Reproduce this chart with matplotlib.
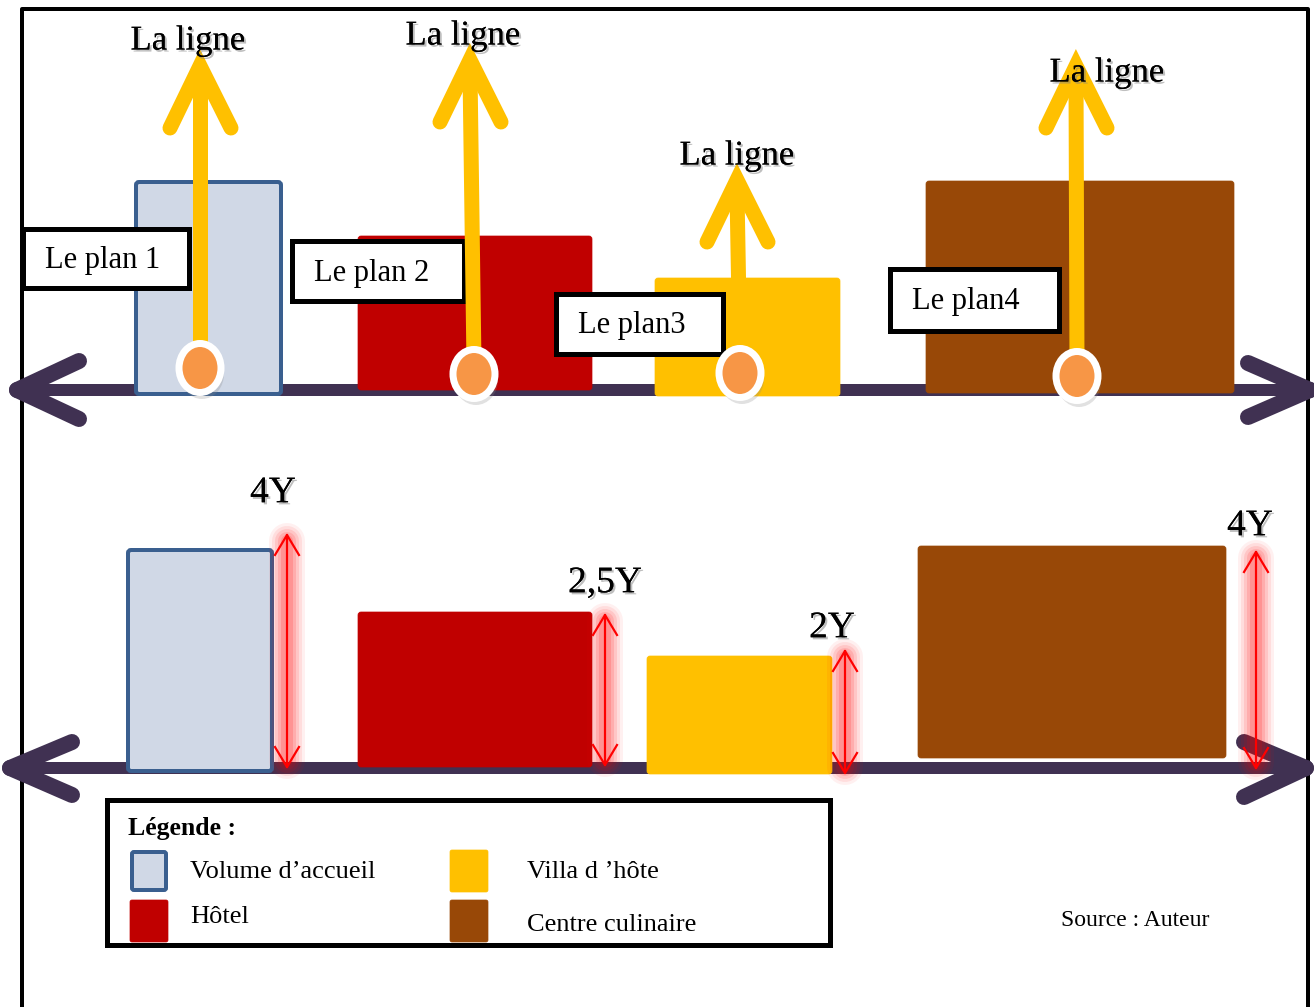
import matplotlib
matplotlib.use("Agg")
import matplotlib.pyplot as plt
from matplotlib.patches import FancyBboxPatch, Ellipse
import matplotlib.patheffects as pe

plt.rcParams['font.family'] = ['Liberation Serif', 'DejaVu Serif']

# buildings (legend order) and their colours
names = ["Volume d\u2019accueil", "H\u00f4tel", "Villa d \u2019h\u00f4te", "Centre culinaire"]
faces = ["#D0D8E6", "#C00000", "#FFC000", "#984807"]
edges = ["#3A5F8F", "#C00000", "#FFC000", "#984807"]

# top diagram: boxes in pixel units (x0, y0, x1, y1)
top_boxes = [(136, 182, 281, 394), (358, 236, 592, 390), (655, 278, 840, 396), (926, 181, 1234, 393)]
plan_labels = ["Le plan 1", "Le plan 2", "Le plan3", "Le plan4"]
plan_boxes = [(23, 229, 189, 288), (292, 241, 464, 301), (556, 294, 723, 354), (890, 269, 1059, 331)]
dots = [(200, 368), (474, 374), (740, 373), (1077, 376)]
tips = [(200, 66), (470, 60), (737, 180), (1076, 66)]
ligne_pos = [(188, 41), (463, 36), (737, 156), (1107, 73)]

# bottom diagram
bot_boxes = [(128, 550, 272, 771), (358, 612, 592, 767), (647, 656, 832, 774), (918, 546, 1226, 758)]
heights = ["4Y", "2,5Y", "2Y", "4Y"]
dim_x = [287, 605, 845, 1256]
dim_y = [(535, 767), (615, 765), (651, 773), (552, 768)]
height_pos = [(273, 493), (605, 583), (832, 628), (1250, 526)]

fig = plt.figure(figsize=(13.14, 10.07), dpi=100)
ax = fig.add_axes([0, 0, 1, 1])
ax.set_xlim(0, 1314)
ax.set_ylim(1007, 0)
ax.axis('off')

PX = 72 / 100  # points per pixel

# outer frame
ax.plot([22, 22, 1308, 1308], [1007, 9, 9, 1007], color='black', lw=4 * PX, zorder=1)


def axis_line(y, x0, x1, ly0, ly1, ry0, ry1, arm=62):
    purple = "#403152"
    ax.plot([x0, x1], [y, y], color=purple, lw=12 * PX, solid_capstyle='butt', zorder=2)
    for yy in (ly0, ly1):
        ax.plot([x0, x0 + arm], [y, yy], color=purple, lw=16 * PX, solid_capstyle='round', zorder=2)
    for yy in (ry0, ry1):
        ax.plot([x1, x1 - arm], [y, yy], color=purple, lw=16 * PX, solid_capstyle='round', zorder=2)


def building(box, i, z=3):
    x0, y0, x1, y1 = box
    lw = 4 * PX if i == 0 else 0.5
    ax.add_patch(FancyBboxPatch((x0, y0), x1 - x0, y1 - y0,
                                boxstyle="round,pad=0,rounding_size=3",
                                fc=faces[i], ec=edges[i], lw=lw, zorder=z))


shadow = [pe.withSimplePatchShadow(offset=(1.5, -1.5), shadow_rgbFace='gray', alpha=0.5), pe.Normal()]

# ---- top section
axis_line(390, 17, 1310, 361, 419, 363, 417)
for i, b in enumerate(top_boxes):
    building(b, i)

for lab, (x0, y0, x1, y1) in zip(plan_labels, plan_boxes):
    ax.add_patch(plt.Rectangle((x0, y0), x1 - x0, y1 - y0, fc='white', ec='black', lw=5 * PX, zorder=5))
    ax.text(x0 + 22, (y0 + y1) / 2 + 2, lab, fontsize=22, ha='left', va='center', zorder=6)

yel = "#FFC000"
for (dx, dy), (tx, ty) in zip(dots, tips):
    ax.plot([dx, tx], [dy - 10, ty + 12], color=yel, lw=15 * PX, solid_capstyle='butt', zorder=6)
    ax.plot([tx - 30, tx, tx + 31], [ty + 62, ty, ty + 62], color=yel, lw=15 * PX,
            solid_capstyle='round', solid_joinstyle='miter', zorder=6)
    ax.add_patch(Ellipse((dx + 2, dy + 6), 44, 50, fc='#888888', alpha=0.25, lw=0, zorder=6))
    ax.add_patch(Ellipse((dx, dy), 42, 49, fc='#F79646', ec='white', lw=7 * PX, zorder=7))

for x, y in ligne_pos:
    ax.text(x, y, "La ligne", fontsize=25, ha='center', va='center', zorder=8, path_effects=shadow)

# ---- bottom section
axis_line(768, 10, 1306, 742, 795, 742, 797)
for i, b in enumerate(bot_boxes):
    building(b, i)

for i in range(4):
    x = dim_x[i]
    ya, yb = dim_y[i]
    # glow
    for w, a in [(36, 0.06), (30, 0.08), (24, 0.1), (18, 0.12), (12, 0.15)]:
        ax.plot([x, x], [ya + 6, yb - 6], color='red', lw=w * PX, alpha=a,
                solid_capstyle='round', zorder=4)
    ax.plot([x, x], [ya, yb], color='red', lw=2.2 * PX, zorder=5)
    ax.plot([x - 12, x, x + 12], [ya + 20, ya, ya + 20], color='red', lw=2.2 * PX, zorder=5)
    ax.plot([x - 12, x, x + 12], [yb - 20, yb, yb - 20], color='red', lw=2.2 * PX, zorder=5)
    hx, hy = height_pos[i]
    ax.text(hx, hy, heights[i], fontsize=27, ha='center', va='center', zorder=6, path_effects=shadow)

# ---- legend
ax.add_patch(plt.Rectangle((107, 800), 723, 145, fc='white', ec='black', lw=5 * PX, zorder=5))
ax.text(128, 829, "L\u00e9gende :", fontsize=18.5, fontweight='bold', ha='left', va='center', zorder=6)
sw = [(130, 850), (130, 900), (450, 850), (450, 900)]
txt = [(190, 872), (190, 917), (527, 872), (527, 925)]
for i in range(4):
    x, y = sw[i]
    lw = 4 * PX if i == 0 else 0.5
    pad = 2 if i == 0 else 0
    ax.add_patch(FancyBboxPatch((x + pad, y + pad), 38 - 2 * pad, 42 - 2 * pad,
                                boxstyle="round,pad=0,rounding_size=2",
                                fc=faces[i], ec=edges[i], lw=lw, zorder=6))
    ax.text(txt[i][0], txt[i][1], names[i], fontsize=19, ha='left', va='center', zorder=6)

ax.text(1061, 920, "Source : Auteur", fontsize=17, ha='left', va='center', zorder=6)

fig.savefig("out.png", dpi=100)
